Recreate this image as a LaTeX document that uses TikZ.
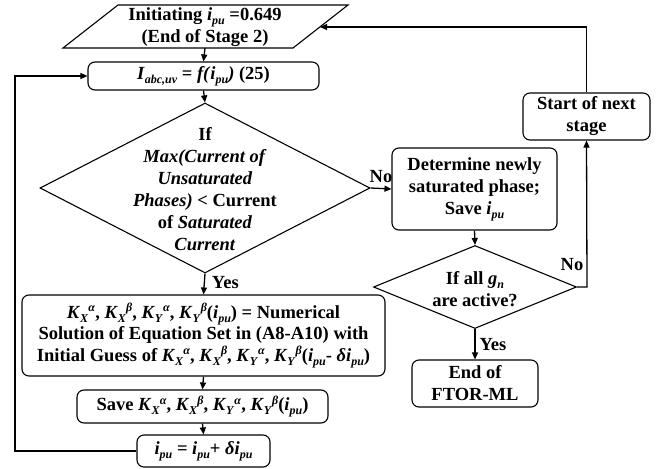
\documentclass[tikz,border=0pt]{standalone}
\usepackage{fontspec}
\setmainfont{Liberation Serif}
\usetikzlibrary{shapes.geometric,arrows.meta}
\newcommand{\mysub}[1]{\raisebox{-0.45ex}{\fontsize{12}{12}\selectfont\textit{#1}}}
\newcommand{\mysup}[1]{\raisebox{0.75ex}{\fontsize{12}{12}\selectfont\textit{#1}}}
\newcommand{\ipu}{\textit{i}\mysub{pu}}
\newcommand{\Kab}[2]{\textit{K}\mysub{#1}\mysup{#2}}
\begin{document}
\begin{tikzpicture}[x=1pt,y=-1pt,
  every node/.style={font=\fontsize{18.5}{22}\selectfont\bfseries},
  box/.style={draw,line width=1.1pt,rounded corners=7pt,inner sep=0pt,align=center},
  dia/.style={draw,line width=1.1pt,diamond,inner sep=0pt},
  txt/.style={align=center,inner sep=0pt},
  conn/.style={line width=1.3pt,-{Triangle[length=7pt,width=6pt]}},
  lbl/.style={inner sep=2pt}]
\useasboundingbox (0,0) rectangle (668,468);
% start parallelogram
\draw[line width=1.1pt] (118,5) -- (348,5) -- (293,48) -- (63,48) -- cycle;
\node[txt] (init) at (205,27) {Initiating \ipu\ =0.649\\(End of Stage 2)};
\coordinate (initS) at (205,48);
\coordinate (initE) at (320,27);
\node[box,minimum width=231pt,minimum height=28pt] (iabc) at (203.5,76)
  {\textit{I}\mysub{abc,uv} = \textit{f(}\ipu\textit{)} (25)};
\node[dia,minimum width=330pt,minimum height=170pt] (d1) at (205,188) {};
\node[txt] (d1t) at (205,189) {If\\\textit{Max(Current of}\\\textit{Unsaturated}\\\textit{Phases)} < Current\\of \textit{Saturated}\\\textit{Current}};
\node[box,minimum width=165pt,minimum height=82pt] (det) at (474.5,189)
  {Determine newly\\saturated phase;\\Save \ipu};
\node[dia,minimum width=203pt,minimum height=83pt] (d2) at (475,287) {};
\node[txt] (d2t) at (475,289) {If all \textit{g}\mysub{n}\\are active?};
\node[box,minimum width=127pt,minimum height=47pt] (start) at (586.5,116.5)
  {Start of next\\stage};
\node[box,minimum width=126pt,minimum height=47pt] (endb) at (475,383.5)
  {End of\\FTOR-ML};
\node[box,minimum width=363pt,minimum height=81pt,font=\fontsize{18.5}{21.5}\selectfont\bfseries] (big) at (203.5,335.5)
  {\Kab{X}{α}, \Kab{X}{β}, \Kab{Y}{α}, \Kab{Y}{β}(\ipu) = Numerical\\
   Solution of Equation Set in (A8-A10) with\\
   Initial Guess of \Kab{X}{α}, \Kab{X}{β}, \Kab{Y}{α}, \Kab{Y}{β}(\ipu- \textit{δ}\ipu)};
\node[box,minimum width=251pt,minimum height=33pt] (save) at (202.5,406.5)
  {Save \Kab{X}{α}, \Kab{X}{β}, \Kab{Y}{α}, \Kab{Y}{β}(\ipu)};
\node[box,minimum width=133pt,minimum height=32pt] (inc) at (203.5,451)
  {\ipu\ = \ipu+ \textit{δ}\ipu};
% connectors
\draw[conn] (initS) -- (iabc.north);
\draw[conn] (iabc.south) -- (d1.north);
\draw[conn] (d1.east) -- node[lbl,above,yshift=3pt]{No} (det.west);
\draw[conn] (det.south) -- (d2.north);
\coordinate (d2corner) at (587,287);
\draw[conn] (d2.east) -- (d2corner) -- (start.south);
\node[lbl] (no2) at (572,265) {No};
\draw[conn] (d2.south) -- node[right,lbl,xshift=2pt]{Yes} (endb.north);
\draw[conn] (start.north) |- (initE);
\draw[conn] (d1.south) -- node[right,lbl,pos=0.45,xshift=5pt]{Yes} (big.north);
\draw[conn] (big.south) -- (save.north);
\draw[conn] (save.south) -- (inc.north);
\coordinate (loopc) at (15,451);
\draw[conn] (inc.west) -- (loopc) |- (iabc.west);
\end{tikzpicture}
\end{document}
